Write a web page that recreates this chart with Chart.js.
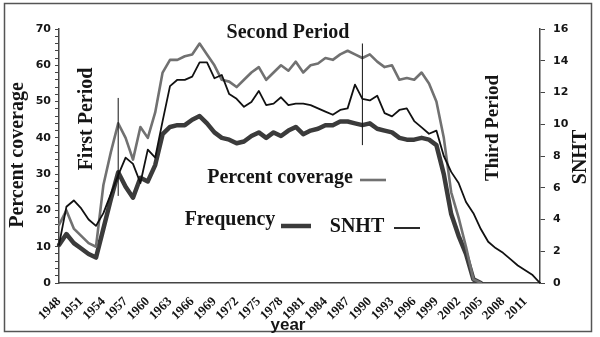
<!DOCTYPE html>
<html>
<head>
<meta charset="utf-8">
<script src="https://cdn.jsdelivr.net/npm/chart.js@4.4.1/dist/chart.umd.min.js"></script>
<style>
  body { margin: 0; background: #fff; }
  canvas { display: block; }
</style>
</head>
<body>
<canvas id="chart" width="600" height="337"></canvas>
<script>
const years = [
  "1948", "1949", "1950", "1951", "1952", "1953", "1954", "1955", "1956", "1957",
  "1958", "1959", "1960", "1961", "1962", "1963", "1964", "1965", "1966", "1967",
  "1968", "1969", "1970", "1971", "1972", "1973", "1974", "1975", "1976", "1977",
  "1978", "1979", "1980", "1981", "1982", "1983", "1984", "1985", "1986", "1987",
  "1988", "1989", "1990", "1991", "1992", "1993", "1994", "1995", "1996", "1997",
  "1998", "1999", "2000", "2001", "2002", "2003", "2004", "2005", "2006", "2007",
  "2008", "2009", "2010", "2011", "2012", "2013",
];

// left axis (percent)
const percentCoverage = [
  16, 20, 15, 13, 11, 10, 27, 36, 44, 40,
  34, 43, 40, 47, 58, 61.5, 61.5, 62.5, 63, 66,
  63, 60, 56, 55.5, 54, 56, 58, 59.5, 56, 58,
  60, 58.5, 61, 58, 60, 60.5, 62, 61.5, 63, 64,
  63, 62, 63, 61, 59.5, 60, 56, 56.5, 56, 58,
  55, 50, 40, 25, 18, 10, 1, 0, null, null,
  null, null, null, null, null, null,
];

const frequency = [
  10.5, 13.5, 11, 9.5, 8, 7, 15, 23, 30.5, 26.5,
  23.5, 29, 28, 32.5, 41, 43, 43.5, 43.5, 45, 46,
  44, 41.5, 40, 39.5, 38.5, 39, 40.5, 41.5, 40, 41.5,
  40.5, 42, 43, 41, 42, 42.5, 43.5, 43.5, 44.5, 44.5,
  44, 43.5, 44, 42.5, 42, 41.5, 40, 39.5, 39.5, 40,
  39.5, 38, 30, 19, 13, 8, 1, 0, null, null,
  null, null, null, null, null, null,
];

// right axis
const snht = [
  2.4, 4.8, 5.2, 4.7, 4.0, 3.6, 4.4, 5.6, 6.8, 7.9,
  7.5, 6.3, 8.4, 7.9, 10.2, 12.4, 12.8, 12.8, 13.0, 13.9,
  13.9, 12.9, 13.1, 11.9, 11.6, 11.1, 11.4, 12.1, 11.2, 11.3,
  11.7, 11.2, 11.3, 11.3, 11.2, 11.0, 10.8, 10.6, 10.9, 11.0,
  12.5, 11.6, 11.5, 11.8, 10.7, 10.5, 10.9, 11.0, 10.2, 9.8,
  9.4, 9.6, 8.0, 7.0, 6.3, 5.1, 4.4, 3.4, 2.6, 2.2,
  1.9, 1.5, 1.1, 0.8, 0.5, 0,
];

// vertical separators between periods (year, from, to in percent units)
const periodYears = ["1956", "1989"];
const periodFrom = [24, 38];
const periodTo = [51, 66];

const grayColor = "#717171";
const darkColor = "#3b3b3b";
const blackColor = "#111111";
const textColor = "#151515";
const serif = '"Liberation Serif", "Times New Roman", serif';
const sans = '"DejaVu Sans", Verdana, sans-serif';

function drawText(ctx, text, x, y, font, rotate) {
  ctx.save();
  ctx.translate(x, y);
  if (rotate) ctx.rotate(-Math.PI / 2);
  ctx.font = font;
  ctx.fillStyle = textColor;
  ctx.textAlign = "center";
  ctx.textBaseline = "middle";
  ctx.fillText(text, 0, 0);
  ctx.restore();
}

function sampleLine(ctx, x1, x2, y, color, width) {
  ctx.save();
  ctx.strokeStyle = color;
  ctx.lineWidth = width;
  ctx.beginPath();
  ctx.moveTo(x1, y);
  ctx.lineTo(x2, y);
  ctx.stroke();
  ctx.restore();
}

const decorPlugin = {
  id: "decor",
  beforeDraw(chart) {
    const ctx = chart.ctx;
    ctx.save();
    ctx.fillStyle = "#fff";
    ctx.fillRect(0, 0, chart.width, chart.height);
    ctx.strokeStyle = "#555";
    ctx.lineWidth = 1.5;
    ctx.strokeRect(4.5, 3.5, 587, 328);
    ctx.restore();
  },
  afterDatasetsDraw(chart) {
    const ctx = chart.ctx;
    const x = chart.scales.x;
    const y = chart.scales.y;

    ctx.save();
    ctx.strokeStyle = blackColor;
    ctx.lineWidth = 1;
    periodYears.forEach((year, i) => {
      const px = x.getPixelForValue(years.indexOf(year));
      ctx.beginPath();
      ctx.moveTo(px, y.getPixelForValue(periodFrom[i]));
      ctx.lineTo(px, y.getPixelForValue(periodTo[i]));
      ctx.stroke();
    });
    ctx.restore();

    const big = "bold 20px " + serif;
    drawText(ctx, "Percent coverage", 18, 155, big, true);
    drawText(ctx, "SNHT", 581, 157, big, true);
    drawText(ctx, "First Period", 87, 119, big, true);
    drawText(ctx, "Third Period", 493, 128, "bold 19px " + serif, true);
    drawText(ctx, "Second Period", 288, 33, big, false);
    drawText(ctx, "year", 288, 325, "bold 17px " + '"Liberation Sans", Arial, sans-serif', false);

    // legend placed inside the plot
    drawText(ctx, "Percent coverage", 280, 178, big, false);
    sampleLine(ctx, 360, 386, 180, grayColor, 2.6);
    drawText(ctx, "Frequency", 230, 220, big, false);
    sampleLine(ctx, 281, 311, 226, darkColor, 4.5);
    drawText(ctx, "SNHT", 357, 227, big, false);
    sampleLine(ctx, 394, 420, 228, blackColor, 1.8);
  },
};

new Chart(document.getElementById("chart"), {
  type: "line",
  data: {
    labels: years,
    datasets: [
      {
        label: "SNHT",
        data: snht,
        yAxisID: "y1",
        borderColor: blackColor,
        borderWidth: 1.8,
        order: 0,
      },
      {
        label: "Percent coverage",
        data: percentCoverage,
        yAxisID: "y",
        borderColor: grayColor,
        borderWidth: 2.6,
        order: 1,
      },
      {
        label: "Frequency",
        data: frequency,
        yAxisID: "y",
        borderColor: darkColor,
        borderWidth: 4.5,
        order: 2,
      },
    ],
  },
  options: {
    responsive: false,
    animation: false,
    elements: {
      point: { radius: 0 },
      line: { tension: 0, borderJoinStyle: "round", borderCapStyle: "round" },
    },
    layout: { padding: { top: 29, left: 0, right: 0, bottom: 0 } },
    plugins: {
      legend: { display: false },
      tooltip: { enabled: false },
    },
    scales: {
      x: {
        type: "category",
        offset: false,
        grid: { display: false },
        border: { display: true, color: "#444", width: 1.5 },
        ticks: {
          autoSkip: false,
          minRotation: 45,
          maxRotation: 45,
          padding: 3,
          color: textColor,
          font: { family: serif, size: 13, weight: "bold" },
          callback: function (value, index) {
            return (years[index] - years[0]) % 3 === 0 ? years[index] : "";
          },
        },
        afterFit: function (scale) {
          scale.height = 54;
        },
      },
      y: {
        position: "left",
        min: 0,
        max: 70,
        grid: { drawOnChartArea: false, drawTicks: true, tickLength: 4, color: "#444" },
        border: { display: true, color: "#444", width: 1.5 },
        ticks: {
          stepSize: 2,
          autoSkip: false,
          maxTicksLimit: 50,
          padding: 4,
          color: textColor,
          font: { family: sans, size: 11, weight: "bold" },
          callback: function (value) {
            return value % 10 === 0 ? value : "";
          },
        },
        afterFit: function (scale) {
          scale.width = 59;
        },
      },
      y1: {
        position: "right",
        min: 0,
        max: 16,
        grid: { drawOnChartArea: false, drawTicks: true, tickLength: 5, color: "#444" },
        border: { display: true, color: "#444", width: 1.5 },
        ticks: {
          stepSize: 2,
          autoSkip: false,
          padding: 8,
          color: textColor,
          font: { family: sans, size: 11, weight: "bold" },
        },
        afterFit: function (scale) {
          scale.width = 60;
        },
      },
    },
  },
  plugins: [decorPlugin],
});
</script>
</body>
</html>
